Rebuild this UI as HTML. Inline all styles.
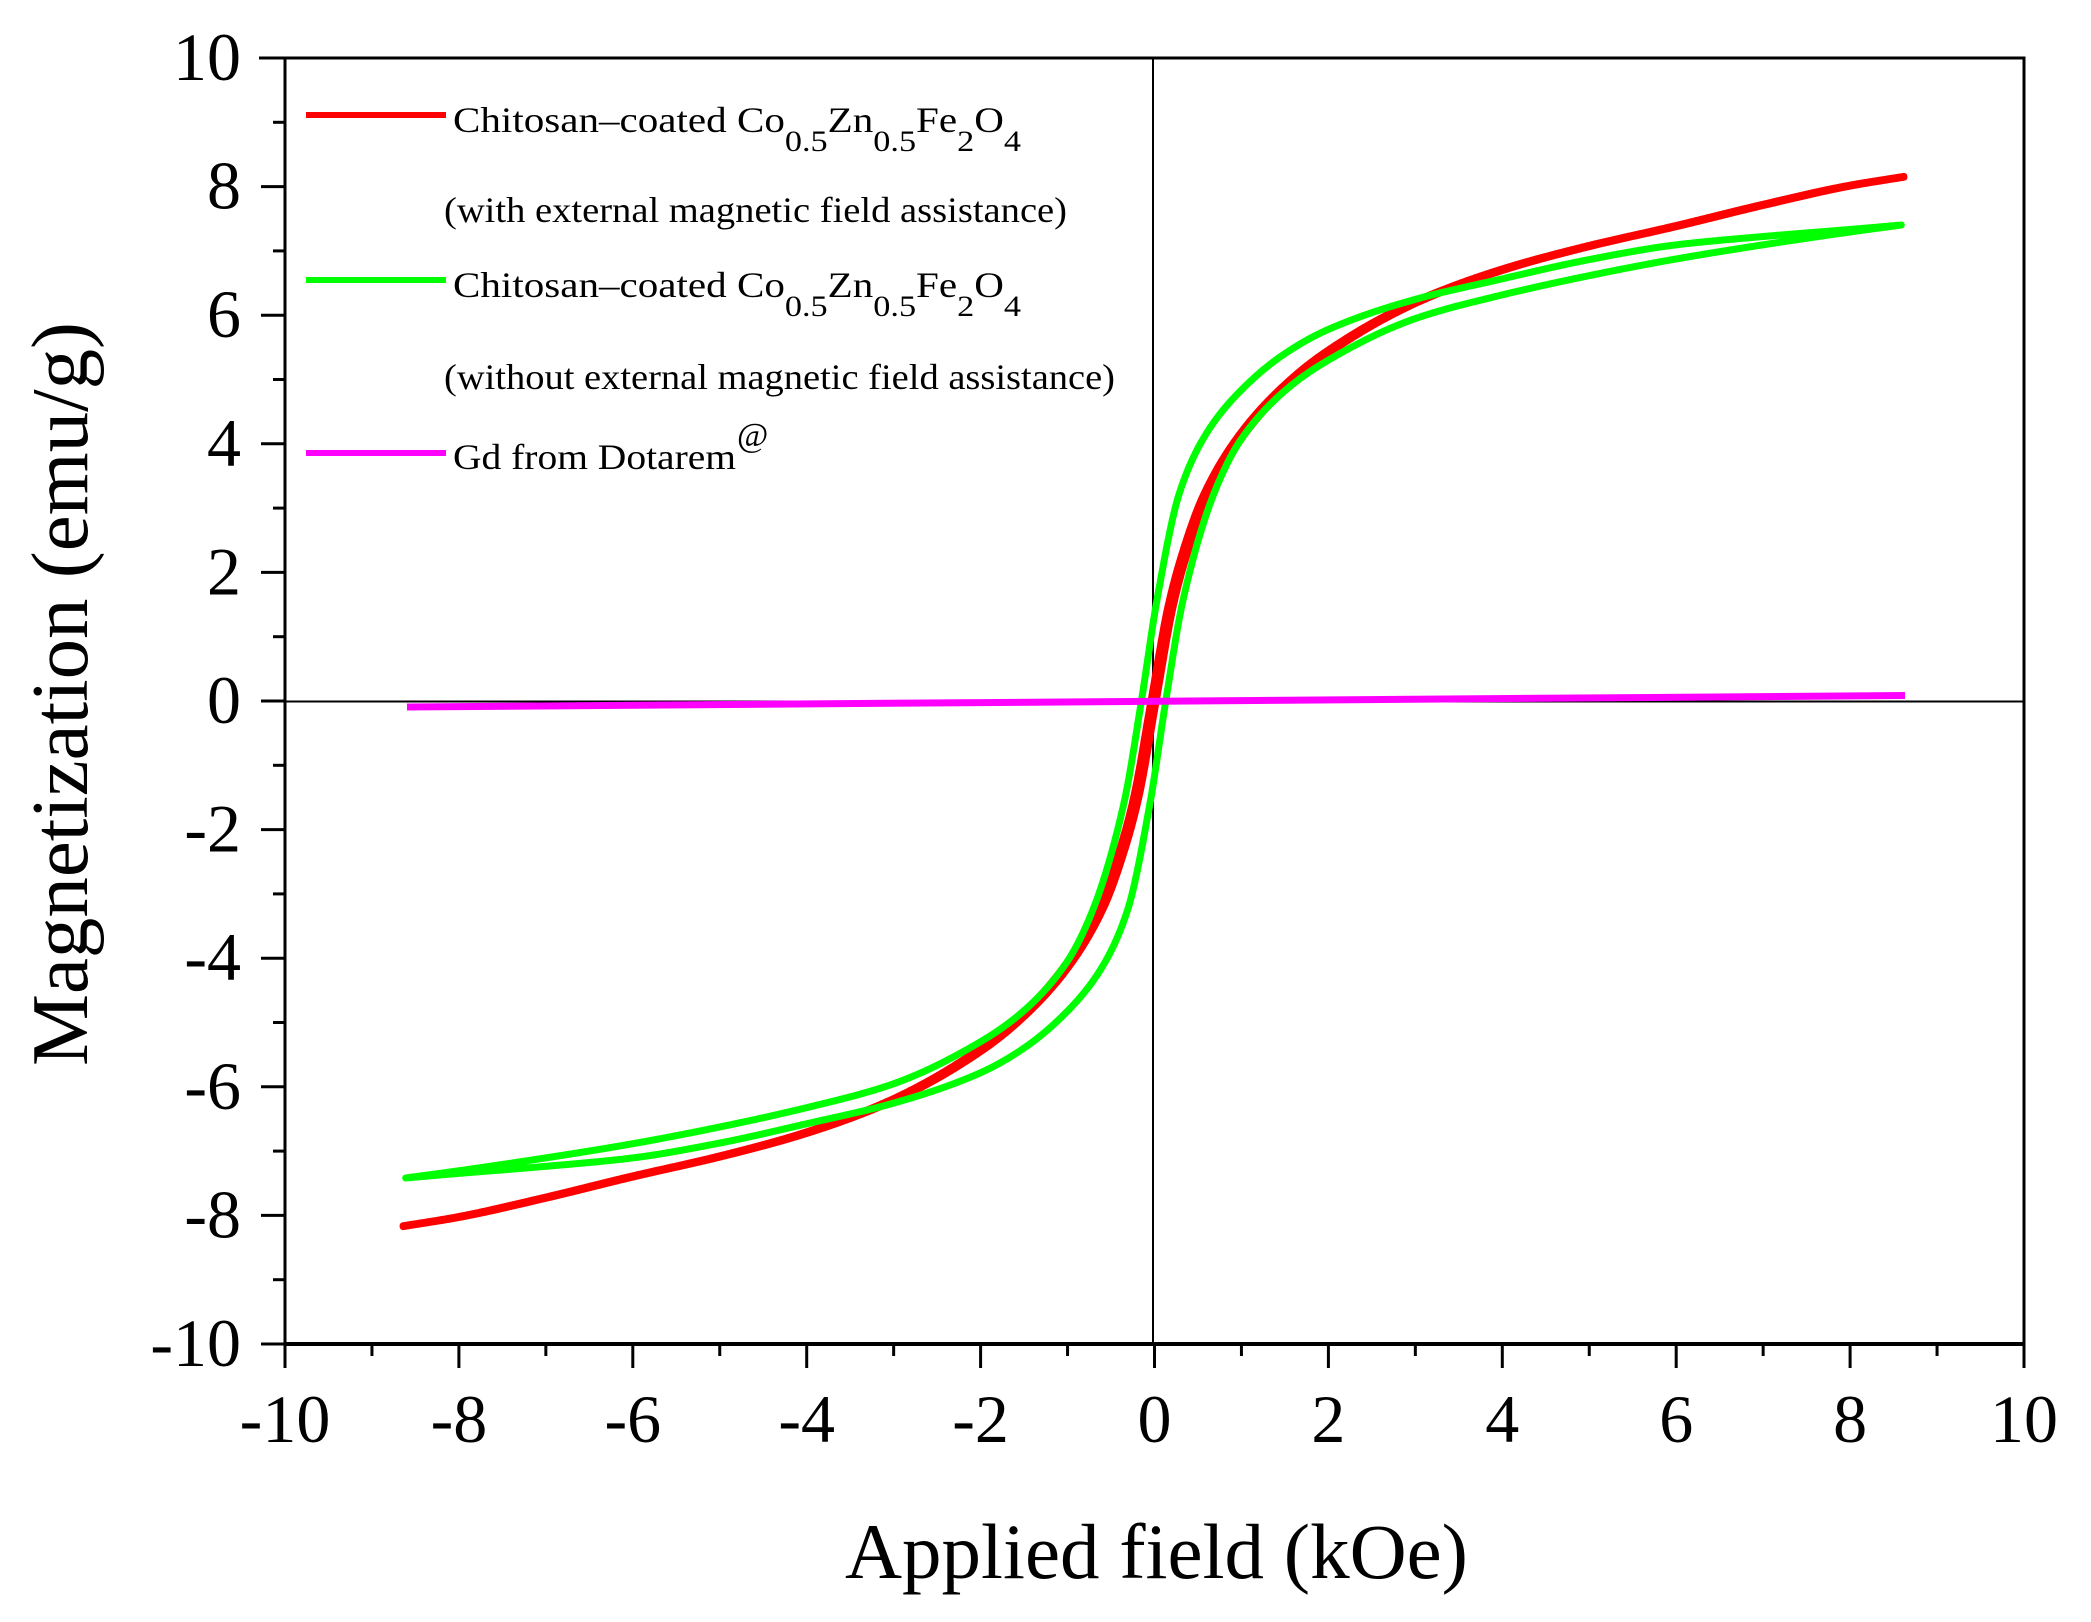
<!DOCTYPE html>
<html><head><meta charset="utf-8"><style>
html,body{margin:0;padding:0;background:#fff;}
svg{display:block;}
text{font-family:"Liberation Serif",serif;fill:#000;}
</style></head><body>
<svg id="s" width="2091" height="1622" viewBox="0 0 2091 1622" xmlns="http://www.w3.org/2000/svg">
<rect width="2091" height="1622" fill="#fff"/>
<g id="ticks" stroke="#000" stroke-width="3"></g>
<g id="labels" font-size="68"></g>
<line x1="1153" y1="58" x2="1153" y2="1344" stroke="#000" stroke-width="2"/>
<line x1="285" y1="701.5" x2="2024" y2="701.5" stroke="#000" stroke-width="2"/>
<path id="pr" fill="none" stroke="#ff0000" stroke-width="7" stroke-linejoin="round"/>
<path id="pg" fill="none" stroke="#00ff00" stroke-width="7" stroke-linejoin="round"/>
<line x1="407" y1="707" x2="1905" y2="695.5" stroke="#ff00ff" stroke-width="7"/>
<rect x="285" y="58" width="1739" height="1286" fill="none" stroke="#000" stroke-width="3"/>
<line x1="259" y1="58" x2="285" y2="58" stroke="#000" stroke-width="3"/>
<line x1="285" y1="1344" x2="2024" y2="1344" stroke="#000" stroke-width="4"/>
<!-- legend -->
<line x1="306" y1="115" x2="446" y2="115" stroke="#ff0000" stroke-width="6"/>
<line x1="306" y1="280" x2="446" y2="280" stroke="#00ff00" stroke-width="6"/>
<line x1="306" y1="453" x2="446" y2="453" stroke="#ff00ff" stroke-width="6"/>
<text x="453" y="132" font-size="36" textLength="568" lengthAdjust="spacingAndGlyphs">Chitosan–coated Co<tspan font-size="30" dy="19">0.5</tspan><tspan dy="-19">Zn</tspan><tspan font-size="30" dy="19">0.5</tspan><tspan dy="-19">Fe</tspan><tspan font-size="30" dy="19">2</tspan><tspan dy="-19">O</tspan><tspan font-size="30" dy="19">4</tspan></text>
<text x="444" y="222" font-size="36" textLength="623" lengthAdjust="spacingAndGlyphs">(with external magnetic field assistance)</text>
<text x="453" y="297" font-size="36" textLength="568" lengthAdjust="spacingAndGlyphs">Chitosan–coated Co<tspan font-size="30" dy="19">0.5</tspan><tspan dy="-19">Zn</tspan><tspan font-size="30" dy="19">0.5</tspan><tspan dy="-19">Fe</tspan><tspan font-size="30" dy="19">2</tspan><tspan dy="-19">O</tspan><tspan font-size="30" dy="19">4</tspan></text>
<text x="444" y="389" font-size="36" textLength="671" lengthAdjust="spacingAndGlyphs">(without external magnetic field assistance)</text>
<text x="453" y="469" font-size="36" textLength="283" lengthAdjust="spacingAndGlyphs">Gd from Dotarem</text>
<text x="737" y="446" font-size="34">@</text>
<!-- axis titles -->
<text x="845" y="1578" font-size="78" textLength="623" lengthAdjust="spacingAndGlyphs">Applied field (kOe)</text>
<text transform="translate(87,1066) rotate(-90)" x="0" y="0" font-size="80" textLength="744" lengthAdjust="spacingAndGlyphs">Magnetization (emu/g)</text>
</svg>
<script>
(function(){
var NS="http://www.w3.org/2000/svg";
var X0=1153.5,SX=86.95,Y0=701.5,SY=64.3;
function px(h){return X0+h*SX;} function py(m){return Y0-m*SY;}
var tg=document.getElementById('ticks'),lg=document.getElementById('labels');
function ln(x1,y1,x2,y2){var l=document.createElementNS(NS,'line');l.setAttribute('x1',x1);l.setAttribute('y1',y1);l.setAttribute('x2',x2);l.setAttribute('y2',y2);tg.appendChild(l);}
function tx(x,y,s,a){var t=document.createElementNS(NS,'text');t.setAttribute('x',x);t.setAttribute('y',y);t.setAttribute('text-anchor',a);t.textContent=s;lg.appendChild(t);}
for(var v=-10;v<=10;v++){
 var x=285+(v+10)*(2024-285)/20;
 var y=58+(10-v)*(1344-58)/20;
 var maj=(v%2===0);
 ln(x,1344,x,1344+(maj?24:12));
 ln(285,y,285-(maj?24:12),y);
 if(maj){tx(x,1442,(v<0?'-':'')+Math.abs(v),'middle');tx(241,y+22,(v<0?'-':'')+Math.abs(v),'end');}
}
// monotone cubic (Fritsch-Carlson)
function pchip(k){
 var n=k.length,xs=k.map(function(p){return p[0];}),ys=k.map(function(p){return p[1];});
 var d=[],m=[];
 for(var i=0;i<n-1;i++)d.push((ys[i+1]-ys[i])/(xs[i+1]-xs[i]));
 m[0]=d[0];m[n-1]=d[n-2];
 for(i=1;i<n-1;i++){
  if(d[i-1]*d[i]<=0)m[i]=0;else{var h0=xs[i]-xs[i-1],h1=xs[i+1]-xs[i];var w1=2*h1+h0,w2=h1+2*h0;m[i]=(w1+w2)/(w1/d[i-1]+w2/d[i]);}
 }
 return function(x){
  if(x<=xs[0])return ys[0]+m[0]*(x-xs[0]);
  if(x>=xs[n-1])return ys[n-1]+m[n-1]*(x-xs[n-1]);
  var j=0;while(x>xs[j+1])j++;
  var h=xs[j+1]-xs[j],t=(x-xs[j])/h,t2=t*t,t3=t2*t;
  return (2*t3-3*t2+1)*ys[j]+(t3-2*t2+t)*h*m[j]+(-2*t3+3*t2)*ys[j+1]+(t3-t2)*h*m[j+1];
 };
}
function mirror(k){return k.map(function(p){return[-p[0],-p[1]];}).reverse();}
var fpos=[[0,0],[0.2,1.5],[0.37,2.35],[0.6,3.2],[1,4.12],[1.5,4.88],[2,5.43],[3,6.2],[4,6.71],[5,7.08],[6,7.39],[7,7.72],[8,8.02],[8.63,8.16]];
var F=pchip(mirror(fpos).slice(0,-1).concat(fpos));
var Gl_pos=[[0.14,0],[0.34,1.58],[0.7,3.25],[1,4.06],[1.5,4.82],[2,5.3],[3,5.95],[4,6.32],[5,6.62],[6,6.88],[7,7.1],[8,7.3],[8.6,7.41]];
var Gu_pos=[[-0.14,0],[0.04,1.58],[0.3,3.25],[0.6,4.15],[1,4.83],[1.5,5.4],[2,5.78],[3,6.25],[4,6.57],[5,6.87],[6,7.1],[7,7.23],[8,7.34],[8.6,7.41]];
var GuK=mirror(Gl_pos).slice(0,-1).concat(Gu_pos);
var Gu=pchip(GuK),Gl=pchip(mirror(GuK));
function path(lower,upper,a,b){
 var lo=[],up=[],step=0.01;
 for(var h=a;h<=b+1e-9;h+=step){lo.push([h,lower(h)]);}
 for(h=b;h>=a-1e-9;h-=step){up.push([h,upper(h)]);}
 var all=lo.concat(up),d='';
 all.forEach(function(p,i){d+=(i?'L':'M')+px(p[0]).toFixed(1)+' '+py(p[1]).toFixed(1);});
 return d+'Z';
}
document.getElementById('pr').setAttribute('d',path(function(h){return F(h-0.03);},function(h){return F(h+0.03);},-8.63,8.63));
document.getElementById('pg').setAttribute('d',path(Gl,Gu,-8.6,8.6));
})();
</script>
</body></html>
